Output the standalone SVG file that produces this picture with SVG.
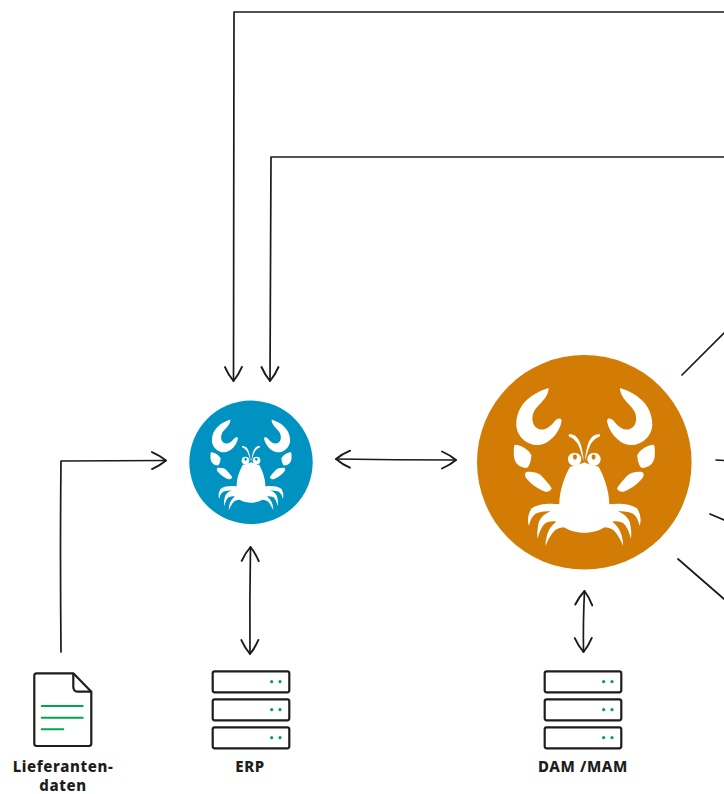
<svg xmlns="http://www.w3.org/2000/svg" xmlns:xlink="http://www.w3.org/1999/xlink" width="724" height="794" viewBox="0 0 724 794">
<style>
.c{fill:none;stroke:#1a1a1a;stroke-width:1.7;stroke-linecap:round;stroke-linejoin:round}
.a{marker-end:url(#h)}
.b{marker-start:url(#h);marker-end:url(#h)}
.w{fill:#fff}
.p{fill:currentColor}
.box{fill:#fff;stroke:#1d1d1b;stroke-width:2.2}
.dot{fill:#00a651}
.g{fill:none;stroke:#00a651;stroke-width:2;stroke-linecap:round}
.t{font-family:"Noto Sans","Liberation Sans",sans-serif;font-weight:800;font-size:15px;letter-spacing:.6px;fill:#1d1d1b;text-anchor:middle}
</style>
<defs>
<marker id="h" markerUnits="userSpaceOnUse" markerWidth="20" markerHeight="24" refX="16" refY="12" orient="auto-start-reverse" viewBox="0 0 20 24">
<path d="M2 3.500Q10 7 16 12Q10 17 2 20.500" fill="none" stroke="#1a1a1a" stroke-width="1.900" stroke-linecap="round" stroke-linejoin="round"/>
</marker>
<g id="half">
<path class="w" d="M236 114C190 128 140 160 139 222C139 262 175 287 205 285C240 282 270 245 275 212C272 202 262 205 254 214C240 232 225 242 208 238C190 232 183 212 190 190C198 165 235 150 236 114Z"/>
<path class="w" d="M134 284C150 284 178 298 184 316C184 332 178 350 170 354C150 352 135 342 132 320C131 305 131 292 134 284Z"/>
<path class="w" d="M170 366C185 364 205 368 215 378C228 392 240 405 245 415C242 424 232 428 222 424C200 415 178 398 167 382C163 374 165 368 170 366Z"/>
<path class="w" d="M344 337C325 345 308 350 300 350C285 378 268 420 268 463L240 484L255 514L280 530C300 544 325 548 344 548Z"/>
<path class="w" d="M270 463C240 459 205 461 185 475C175 490 171 510 177 528C181 510 188 496 200 490C215 484 230 484 245 484Z"/>
<path class="w" d="M248 482C228 488 213 500 207 515C202 535 201 552 203 566C209 545 216 528 226 520C236 514 246 514 258 514Z"/>
<path class="w" d="M262 513C244 526 236 540 231 556C228 570 226 580 227 587C234 570 243 552 255 541C264 535 272 533 285 532Z"/>
<path class="w" d="M296 253C312 250 325 260 333 285C337 300 340 315 341 334C336 315 331 298 325 285C316 268 305 262 297 260Z"/>
<circle class="w" cx="314" cy="328" r="20"/>
<ellipse class="p" cx="315" cy="321" rx="6" ry="8"/>
</g>
<g id="crab" transform="scale(.33333) translate(-343 -337)">
<use xlink:href="#half" href="#half"/>
<use xlink:href="#half" href="#half" transform="translate(686 0) scale(-1 1)"/>
</g>
<g id="srv">
<rect class="box" x="212.700" y="671.300" width="76.600" height="21" rx="2"/>
<rect class="box" x="212.700" y="699.300" width="76.600" height="21" rx="2"/>
<rect class="box" x="212.700" y="727.300" width="76.600" height="21" rx="2"/>
<circle class="dot" cx="271.700" cy="681.700" r="1.600"/><circle class="dot" cx="280" cy="681.700" r="1.600"/>
<circle class="dot" cx="271.700" cy="709.700" r="1.600"/><circle class="dot" cx="280" cy="709.700" r="1.600"/>
<circle class="dot" cx="271.700" cy="737.700" r="1.600"/><circle class="dot" cx="280" cy="737.700" r="1.600"/>
</g>
</defs>
<g id="connectors">
<path class="c a" d="M724 12L234 12Q233 200 233.500 381"/>
<path class="c a" d="M724 157L271 157Q270 270 270 381"/>
<path class="c a" d="M61 652Q60 550 61 461L166 460.500"/>
<path class="c b" d="M336 459Q395 460 456 460"/>
<path class="c b" d="M250.500 547Q249.500 600 250 654"/>
<path class="c b" d="M584.500 591Q583 620 583.500 652"/>
<path class="c" d="M682 375L724 333"/>
<path class="c" d="M716 460L724 460.500"/>
<path class="c" d="M710 514L724 520"/>
<path class="c" d="M678 559L724 599"/>
</g>
<g id="node-blue" style="color:#0093c2">
<circle cx="251" cy="462.300" r="61.700" fill="#0093c2"/>
<use xlink:href="#crab" href="#crab" transform="translate(251 462.300) scale(.575)"/>
</g>
<g id="node-orange" style="color:#d27c06">
<circle cx="584.300" cy="462.300" r="107.300" fill="#d27c06"/>
<use xlink:href="#crab" href="#crab" transform="translate(584.300 462.300)"/>
</g>
<g id="node-lieferantendaten">
<path d="M36.500 673.300H73.300L91.300 691.700V743.500Q91.300 746 88.800 746H36.500Q34.300 746 34.300 743.500V675.800Q34.300 673.300 36.500 673.300Z" fill="#fff" stroke="#1d1d1b" stroke-width="2.200" stroke-linejoin="round"/>
<path d="M73.300 673.300V686.700Q73.300 691.700 78.300 691.700H91.300" fill="none" stroke="#1d1d1b" stroke-width="2.200"/>
<path class="g" d="M41.700 706H82.700M41.700 717.700H82.700M41.700 729.300H63.300"/>
<text class="t" x="63" y="772">Lieferanten-</text>
<text class="t" x="63" y="791">daten</text>
</g>
<g id="node-erp">
<use xlink:href="#srv" href="#srv"/>
<text class="t" x="250" y="772">ERP</text>
</g>
<g id="node-dam">
<use xlink:href="#srv" href="#srv" transform="translate(332 0)"/>
<text class="t" x="583" y="772">DAM /MAM</text>
</g>
</svg>
